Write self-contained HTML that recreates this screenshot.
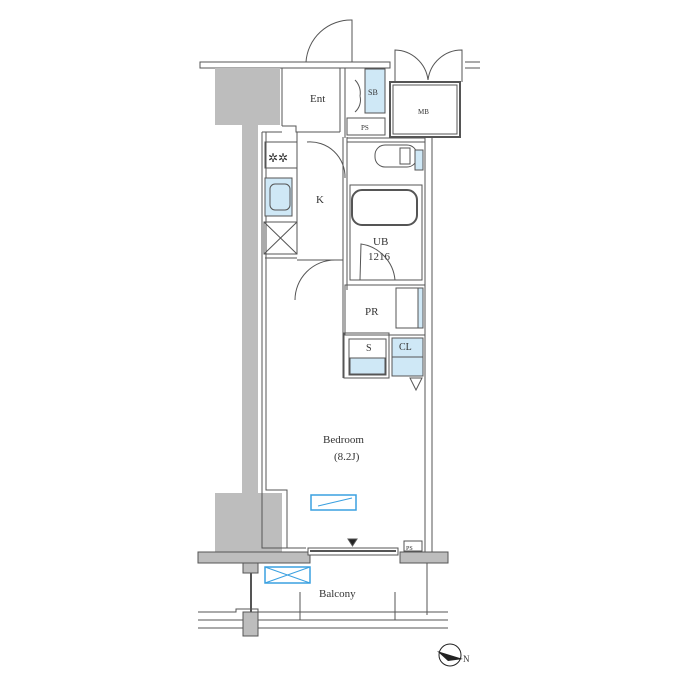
<!DOCTYPE html>
<html><head><style>
html,body{margin:0;padding:0;background:#fff;}
svg{display:block;}
text{font-family:"Liberation Serif",serif;fill:#333;}
</style></head><body>
<svg width="700" height="700" viewBox="0 0 700 700" xmlns="http://www.w3.org/2000/svg">
<g stroke="#555" stroke-width="1" fill="none">
<rect x="200" y="62" width="190" height="6" fill="#fff"/>
<rect x="215" y="68" width="65" height="57" fill="#bdbdbd" stroke="none"/>
<rect x="242" y="120" width="16" height="375" fill="#bdbdbd" stroke="none"/>
<rect x="215" y="493" width="67" height="62" fill="#bdbdbd" stroke="none"/>
<rect x="198" y="552" width="112" height="11" fill="#bdbdbd"/>
<rect x="243" y="563" width="15" height="10" fill="#bdbdbd"/>
<rect x="400" y="552" width="48" height="11" fill="#bdbdbd"/>
<line x1="465" y1="62" x2="480" y2="62"/><line x1="465" y1="68" x2="480" y2="68"/>
<path d="M262 132 V548 H306 M266 132 V490 H287 V548"/>
<path d="M425 137 V552 M432 137 V552"/>
<path d="M262 132 H282 M282 126 H296 V132 H340"/>
<path d="M282 68 V126 M340 68 V132 M345 68 V138"/>
<path d="M306 62 A45 45 0 0 1 352 20 V62"/>
<path d="M355 80 A18 18 0 0 1 360 96 M355 112 A16 16 0 0 0 360 96" />
<rect x="365" y="69" width="20" height="44" fill="#cfe8f6"/>
<text x="368" y="95" font-size="8" stroke="none">SB</text>
<text x="310" y="102" font-size="11" stroke="none">Ent</text>
<rect x="347" y="118" width="38" height="17"/>
<text x="361" y="130" font-size="7" stroke="none">PS</text>
<rect x="390" y="82" width="70" height="55" stroke-width="2"/>
<rect x="393" y="85" width="64" height="49"/>
<text x="418" y="114" font-size="7" stroke="none">MB</text>
<path d="M395 82 V50 A34 34 0 0 1 428 80 M462 82 V50 A34 34 0 0 0 428 80"/>
<rect x="265" y="142" width="32" height="26"/>
<text x="268" y="162" font-size="12" stroke="none">✲✲</text>
<rect x="265" y="178" width="27" height="38" fill="#cfe8f6"/>
<rect x="270" y="184" width="20" height="26" rx="5"/>
<rect x="264" y="222" width="33" height="32"/>
<path d="M264 222 L297 254 M297 222 L264 254"/>
<path d="M297 132 V254 M265 258 H297 M297 260 H343"/>
<text x="316" y="203" font-size="11" stroke="none">K</text>
<path d="M307 142 A35 35 0 0 1 345 178"/>
<path d="M343 137 V378 M347 137 V290"/>
<rect x="347" y="138" width="78" height="4"/>
<rect x="375" y="145" width="42" height="22" rx="10"/>
<rect x="400" y="148" width="10" height="16"/>
<rect x="415" y="150" width="8" height="20" fill="#cfe8f6"/>
<rect x="350" y="185" width="72" height="95"/>
<rect x="352" y="190" width="65" height="35" rx="10" stroke-width="2"/>
<text x="373" y="245" font-size="11" stroke="none">UB</text>
<text x="368" y="260" font-size="11" stroke="none">1216</text>
<path d="M360 280 L361 244 A40 40 0 0 1 395 280"/>
<rect x="345" y="285" width="80" height="50"/>
<text x="365" y="315" font-size="11" stroke="none">PR</text>
<rect x="396" y="288" width="22" height="40"/>
<rect x="418" y="288" width="5" height="40" fill="#cfe8f6"/>
<path d="M295 300 A40 40 0 0 1 335 260"/>
<rect x="344" y="333" width="45" height="45"/>
<rect x="349" y="339" width="37" height="36" fill="#fff"/>
<rect x="350" y="358" width="35" height="16" fill="#cfe8f6"/>
<text x="366" y="351" font-size="10" stroke="none">S</text>
<rect x="392" y="338" width="31" height="38" fill="#cfe8f6"/>
<line x1="392" y1="357" x2="423" y2="357"/>
<text x="399" y="350" font-size="10" stroke="none">CL</text>
<path d="M410 378 L422 378 L416 390 Z"/>
<text x="323" y="443" font-size="11" stroke="none">Bedroom</text>
<text x="334" y="460" font-size="11" stroke="none">(8.2J)</text>
<rect x="311" y="495" width="45" height="15" stroke="#3aa0e0" stroke-width="1.5"/>
<path d="M318 506 L352 498" stroke="#3aa0e0"/>
<rect x="308" y="548" width="90" height="7" fill="#fff"/>
<line x1="310" y1="551" x2="396" y2="551" stroke-width="2"/>
<path d="M348 539 H357 L352.5 546 Z" fill="#222"/>
<rect x="404" y="541" width="18" height="10"/>
<text x="406" y="550" font-size="6" stroke="none">PS</text>
<rect x="265" y="567" width="45" height="16" stroke="#3aa0e0" stroke-width="1.5"/>
<path d="M265 567 L310 583 M310 567 L265 583" stroke="#3aa0e0"/>
<text x="319" y="597" font-size="11" stroke="none">Balcony</text>
<path d="M251 573 V615" stroke-width="2"/>
<path d="M300 592 V620 M395 592 V620 M427 563 V615" />
<path d="M198 612 H236 V609 H258 V612 H448 M198 620 H448 M198 628 H448"/>
<rect x="243" y="612" width="15" height="24" fill="#bdbdbd"/>
</g>
<g transform="translate(450,655)">
<circle cx="0" cy="0" r="11" fill="#fff" stroke="#222"/>
<path d="M-13 -4 L13 4 L-2 6 Z" fill="#222"/>
<text x="13" y="7" font-size="9">N</text>
</g>
</svg>
</body></html>
